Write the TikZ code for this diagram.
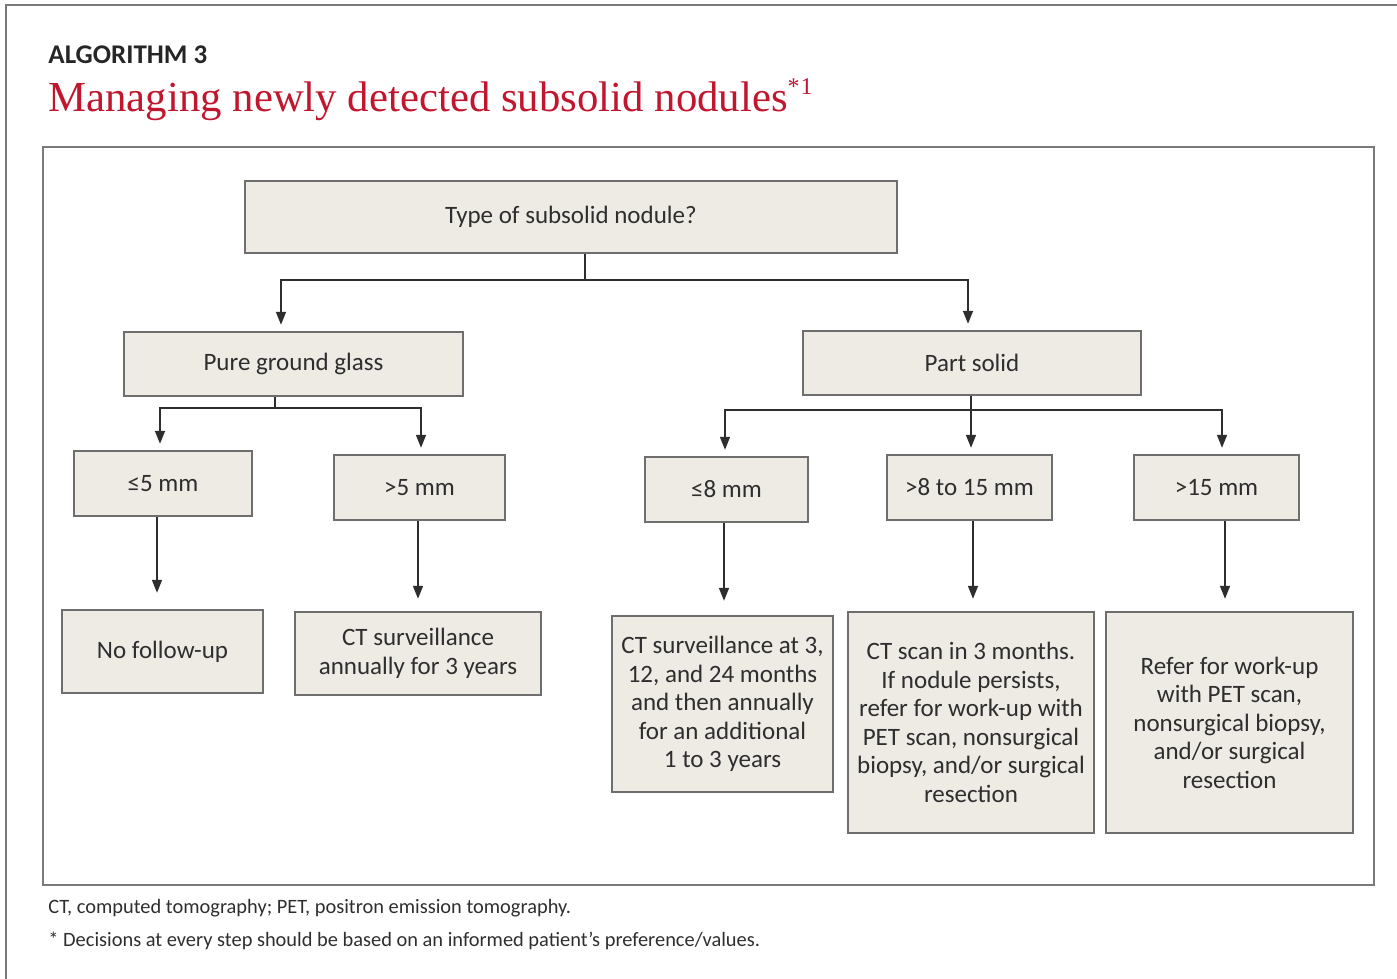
\documentclass[tikz,border=0pt]{standalone}
\usepackage{fontspec}
\setmainfont{Carlito}
\newfontfamily\titlefont{Liberation Serif}
\usetikzlibrary{arrows.meta}
\definecolor{boxfill}{HTML}{EDEBE4}
\definecolor{boxline}{HTML}{6E6E6E}
\definecolor{txt}{HTML}{2E2E2E}
\definecolor{titlered}{HTML}{C0172F}
\definecolor{framegray}{HTML}{7A7A7A}
\tikzset{
  box/.style={draw=boxline, line width=1.2pt, fill=boxfill, text=txt, align=center, inner sep=2pt,
    font=\fontsize{12.5}{14.25}\selectfont},
  conn/.style={draw=txt, line width=0.8pt},
  arr/.style={conn, -{Triangle[width=5pt,length=6.5pt]}, shorten >=3pt},
}
\begin{document}
\begin{tikzpicture}[x=0.5pt,y=-0.5pt]
\useasboundingbox (0,0) rectangle (1397,979);
% outer page frame
\draw[framegray, line width=1pt] (6,985) -- (6,5) -- (1405,5);
% inner frame
\draw[framegray, line width=1.3pt] (43,147) rectangle (1374,885);
% header
\node[anchor=base west, inner sep=0, text=black!85, font=\fontsize{13.5}{16}\selectfont\bfseries] (hdr) at (48,64) {ALGORITHM 3};
\node[anchor=base west, inner sep=0, text=titlered, font=\titlefont\fontsize{21.4}{25}\selectfont] (ttl) at (48,112) {Managing newly detected subsolid nodules\raisebox{0.4em}{\fontsize{12}{12}\selectfont*\kern0.5pt1}};
% footer
\node[anchor=base west, inner sep=0, text=txt, font=\fontsize{10.2}{12}\selectfont] (f1) at (48,913) {CT, computed tomography; PET, positron emission tomography.};
\node[anchor=base west, inner sep=0, text=txt, font=\fontsize{10.2}{12}\selectfont] (f2) at (48,946) {* Decisions at every step should be based on an informed patient’s preference/values.};
% boxes
\node[box, minimum width=326pt, minimum height=36pt] (top) at (571,217) {Type of subsolid nodule?};
\node[box, minimum width=169.5pt, minimum height=32pt] (pgg) at (293.5,364) {Pure ground glass};
\node[box, minimum width=169pt, minimum height=32pt] (ps) at (972,363) {Part solid};
\node[box, minimum width=89pt, minimum height=32.5pt] (le5) at (163,483.5) {≤5 mm};
\node[box, minimum width=85.5pt, minimum height=32.5pt] (gt5) at (419.5,487.5) {>5 mm};
\node[box, minimum width=81.5pt, minimum height=32.5pt] (le8) at (726.5,489.5) {≤8 mm};
\node[box, minimum width=82.5pt, minimum height=32.5pt] (gt8) at (969.5,487.5) {>8 to 15 mm};
\node[box, minimum width=82.5pt, minimum height=32.5pt] (gt15) at (1216.5,487.5) {>15 mm};
\node[box, minimum width=100.5pt, minimum height=41.5pt] (nofu) at (162.5,651.5) {No follow-up};
\node[box, minimum width=123pt, minimum height=41.5pt] (ctann) at (418,653.5) {CT surveillance\\annually for 3 years};
\node[box, minimum width=110.5pt, minimum height=88pt] (ct3) at (722.5,704) {CT surveillance at 3,\\12, and 24 months\\and then annually\\for an additional\\1 to 3 years};
\node[box, minimum width=123pt, minimum height=110.5pt] (ctscan) at (971,722.5) {CT scan in 3 months.\\If nodule persists,\\refer for work-up with\\PET scan, nonsurgical\\biopsy, and/or surgical\\resection};
\node[box, minimum width=123.5pt, minimum height=110.5pt] (refer) at (1229.5,722.5) {Refer for work-up\\with PET scan,\\nonsurgical biopsy,\\and/or surgical\\resection};
% junctions
\coordinate (j1) at (585,280);
\coordinate (x1) at (281,0);
\coordinate (x2) at (968,0);
\coordinate (j2) at (275,408);
\coordinate (x3) at (160,0);
\coordinate (x4) at (421,0);
\coordinate (j3) at (971,410);
\coordinate (x5) at (725,0);
\coordinate (x6) at (1222,0);
\coordinate (x7) at (157,0);
\coordinate (x8) at (418,0);
\coordinate (x9) at (724,0);
\coordinate (x10) at (973,0);
\coordinate (x11) at (1225,0);
% connectors
\draw[conn] (top.south -| j1) -- (j1);
\draw[arr] (j1) -| (pgg.north -| x1);
\draw[arr] (j1) -| (ps.north -| x2);
\draw[conn] (pgg.south -| j2) -- (j2);
\draw[arr] (j2) -| (le5.north -| x3);
\draw[arr] (j2) -| (gt5.north -| x4);
\draw[conn] (ps.south -| j3) -- (j3);
\draw[arr] (j3) -| (le8.north -| x5);
\draw[arr] (j3) -- (gt8.north -| j3);
\draw[arr] (j3) -| (gt15.north -| x6);
\draw[arr, shorten >=8pt] (le5.south -| x7) -- (nofu.north -| x7);
\draw[arr, shorten >=6pt] (gt5.south -| x8) -- (ctann.north -| x8);
\draw[arr, shorten >=7pt] (le8.south -| x9) -- (ct3.north -| x9);
\draw[arr, shorten >=6pt] (gt8.south -| x10) -- (ctscan.north -| x10);
\draw[arr, shorten >=6pt] (gt15.south -| x11) -- (refer.north -| x11);
\end{tikzpicture}
\end{document}
